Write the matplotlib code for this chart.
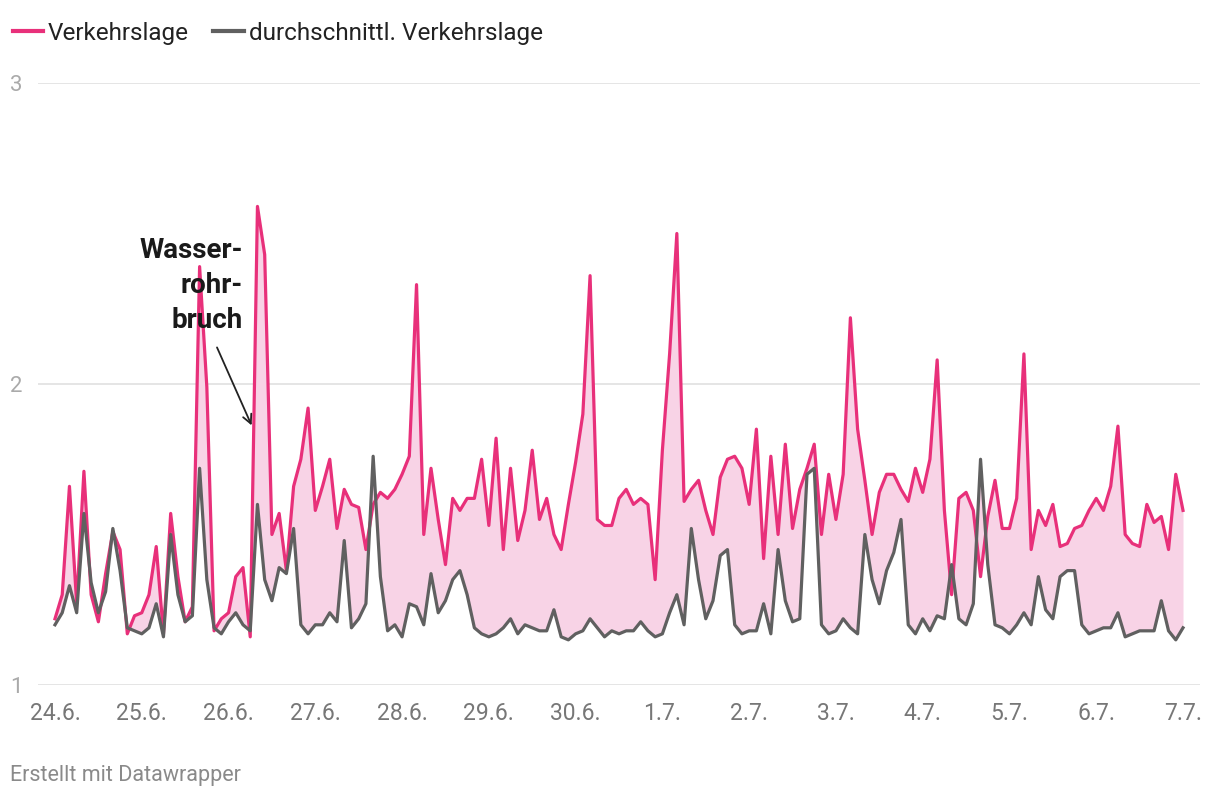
import numpy as np
import matplotlib.pyplot as plt
from matplotlib.lines import Line2D

plt.rcParams['font.family'] = ['Roboto', 'DejaVu Sans']

# Verkehrslage, alle 2 Stunden ab 24.6. 0 Uhr
verkehrslage = [
    1.22, 1.30, 1.66, 1.27, 1.71, 1.30, 1.21, 1.37, 1.51, 1.45, 1.17, 1.23,
    1.24, 1.30, 1.46, 1.17, 1.57, 1.36, 1.21, 1.26, 2.39, 1.99, 1.18, 1.22,
    1.24, 1.36, 1.39, 1.16, 2.59, 2.43, 1.50, 1.57, 1.38, 1.66, 1.75, 1.92,
    1.58, 1.66, 1.75, 1.52, 1.65, 1.60, 1.59, 1.45, 1.60, 1.64, 1.62, 1.65,
    1.70, 1.76, 2.33, 1.50, 1.72, 1.55, 1.40, 1.62, 1.58, 1.62, 1.62, 1.75,
    1.53, 1.82, 1.45, 1.72, 1.48, 1.58, 1.78, 1.55, 1.62, 1.50, 1.45, 1.60,
    1.74, 1.90, 2.36, 1.55, 1.53, 1.53, 1.62, 1.65, 1.60, 1.62, 1.60, 1.35,
    1.78, 2.10, 2.50, 1.61, 1.65, 1.68, 1.58, 1.50, 1.69, 1.75, 1.76, 1.72,
    1.60, 1.85, 1.42, 1.76, 1.50, 1.80, 1.52, 1.65, 1.72, 1.80, 1.50, 1.70,
    1.55, 1.70, 2.22, 1.85, 1.68, 1.50, 1.64, 1.70, 1.70, 1.65, 1.61, 1.72,
    1.64, 1.75, 2.08, 1.58, 1.30, 1.62, 1.64, 1.58, 1.36, 1.56, 1.68, 1.52,
    1.52, 1.62, 2.10, 1.45, 1.58, 1.53, 1.60, 1.46, 1.47, 1.52, 1.53, 1.58,
    1.62, 1.58, 1.66, 1.86, 1.50, 1.47, 1.46, 1.60, 1.54, 1.56, 1.45, 1.70,
    1.58,
]

durchschnitt = [
    1.20, 1.24, 1.33, 1.24, 1.57, 1.34, 1.24, 1.31, 1.52, 1.38, 1.19, 1.18,
    1.17, 1.19, 1.27, 1.16, 1.50, 1.30, 1.21, 1.23, 1.72, 1.35, 1.19, 1.17,
    1.21, 1.24, 1.20, 1.18, 1.60, 1.35, 1.28, 1.39, 1.37, 1.52, 1.20, 1.17,
    1.20, 1.20, 1.24, 1.21, 1.48, 1.19, 1.22, 1.27, 1.76, 1.36, 1.18, 1.20,
    1.16, 1.27, 1.26, 1.20, 1.37, 1.24, 1.28, 1.35, 1.38, 1.30, 1.19, 1.17,
    1.16, 1.17, 1.19, 1.22, 1.17, 1.20, 1.19, 1.18, 1.18, 1.25, 1.16, 1.15,
    1.17, 1.18, 1.22, 1.19, 1.16, 1.18, 1.17, 1.18, 1.18, 1.21, 1.18, 1.16,
    1.17, 1.24, 1.30, 1.20, 1.52, 1.35, 1.22, 1.28, 1.43, 1.45, 1.20, 1.17,
    1.18, 1.18, 1.27, 1.17, 1.45, 1.28, 1.21, 1.22, 1.70, 1.72, 1.20, 1.17,
    1.18, 1.22, 1.19, 1.17, 1.50, 1.35, 1.27, 1.38, 1.44, 1.55, 1.20, 1.17,
    1.22, 1.18, 1.23, 1.22, 1.40, 1.22, 1.20, 1.27, 1.75, 1.40, 1.20, 1.19,
    1.17, 1.20, 1.24, 1.20, 1.36, 1.25, 1.22, 1.36, 1.38, 1.38, 1.20, 1.17,
    1.18, 1.19, 1.19, 1.24, 1.16, 1.17, 1.18, 1.18, 1.18, 1.28, 1.18, 1.15,
    1.19,
]

tage = ['24.6.', '25.6.', '26.6.', '27.6.', '28.6.', '29.6.', '30.6.',
        '1.7.', '2.7.', '3.7.', '4.7.', '5.7.', '6.7.', '7.7.']

stunden = np.arange(len(verkehrslage)) * 2
tick_pos = np.arange(len(tage)) * 24

pink = '#e8307a'
grau = '#606060'

fig = plt.figure(figsize=(12.2, 8), dpi=100)
ax = fig.add_axes([38/1220, 1-685/800, (1200-38)/1220, (685-83)/800])

ax.fill_between(stunden, durchschnitt, verkehrslage, color='#f8d3e6', lw=0)
ax.plot(stunden, verkehrslage, color=pink, lw=2.3, solid_joinstyle='round')
ax.plot(stunden, durchschnitt, color=grau, lw=2.3, solid_joinstyle='round')

ax.set_xlim(-4.7, 316.7)
ax.set_ylim(1, 3)
ax.set_yticks([1, 2, 3])
ax.set_yticklabels(['1', '2', '3'])
ax.set_xticks(tick_pos)
ax.set_xticklabels(tage)
ax.yaxis.grid(True, color='#e3e3e3', lw=1.3)
ax.set_axisbelow(True)
for s in ax.spines.values():
    s.set_visible(False)
ax.tick_params(axis='y', length=0, pad=11, labelsize=16, labelcolor='#aaaaaa')
ax.tick_params(axis='x', length=0, pad=12, labelsize=16.5, labelcolor='#777777')

ax.text(52.0, 2.49, 'Wasser-\nrohr-\nbruch', ha='right', va='top',
        fontsize=20, fontweight='bold', color='#1a1a1a', linespacing=1.4)
ax.annotate('', xy=(54.7, 1.854), xytext=(44.5, 2.13),
            arrowprops=dict(arrowstyle='->', color='#222222', lw=1.3,
                            mutation_scale=16))

handles = [Line2D([], [], color=pink, lw=3), Line2D([], [], color=grau, lw=3)]
fig.legend(handles, ['Verkehrslage', 'durchschnittl. Verkehrslage'],
           loc='upper left', bbox_to_anchor=(-0.0075, 1.0), ncol=2,
           frameon=False, fontsize=17.5, handlelength=1.25, handletextpad=0.2,
           columnspacing=1.0, labelcolor='#222222')

fig.text(10/1220, 1-776/800, 'Erstellt mit Datawrapper', color='#8a8a8a',
         fontsize=15.5, va='center')

fig.savefig('out.png', dpi=100)
